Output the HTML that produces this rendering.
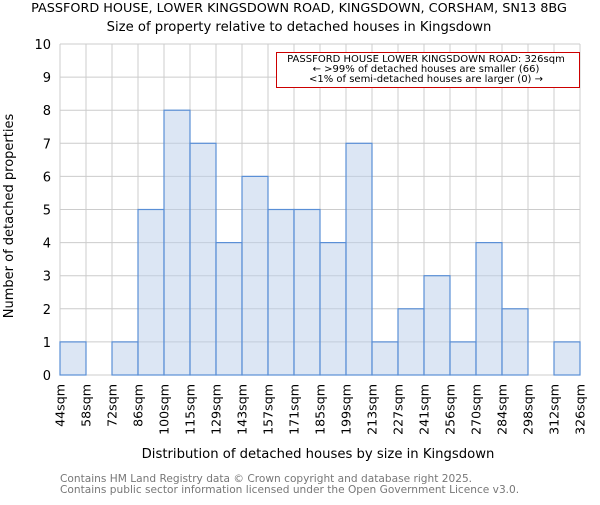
<!DOCTYPE html>
<html><head><meta charset="utf-8"><style>body{margin:0;background:#fff}svg{font-family:"DejaVu Sans","Liberation Sans",sans-serif}</style></head>
<body>
<svg width="600" height="500" xmlns="http://www.w3.org/2000/svg">
<text x="299" y="12" font-size="12.8" text-anchor="middle">PASSFORD HOUSE, LOWER KINGSDOWN ROAD, KINGSDOWN, CORSHAM, SN13 8BG</text>
<text x="299" y="31" font-size="13.2" text-anchor="middle">Size of property relative to detached houses in Kingsdown</text>
<g id="grid"></g><g id="bars"></g><g id="yticks"></g><g id="xticks"></g>
<rect x="276.5" y="52.5" width="303" height="35" fill="#fff" stroke="#cc0000"/>
<text font-size="10" text-anchor="middle"><tspan x="426" y="62">PASSFORD HOUSE LOWER KINGSDOWN ROAD: 326sqm</tspan><tspan x="426" y="72">← &gt;99% of detached houses are smaller (66)</tspan><tspan x="426" y="82">&lt;1% of semi-detached houses are larger (0) →</tspan></text>
<text x="318" y="458" font-size="13.2" text-anchor="middle">Distribution of detached houses by size in Kingsdown</text>
<text transform="translate(13,216) rotate(-90)" font-size="13" text-anchor="middle">Number of detached properties</text>
<text x="60" y="482" font-size="10.6" fill="#777">Contains HM Land Registry data © Crown copyright and database right 2025.</text>
<text x="60" y="493" font-size="10.6" fill="#777">Contains public sector information licensed under the Open Government Licence v3.0.</text>
</svg>
<script>
const categories=["44sqm","58sqm","72sqm","86sqm","100sqm","115sqm","129sqm","143sqm","157sqm","171sqm","185sqm","199sqm","213sqm","227sqm","241sqm","256sqm","270sqm","284sqm","298sqm","312sqm","326sqm"];
const counts=[1,0,1,5,8,7,4,6,5,5,4,7,1,2,3,1,4,2,0,1];
const yTicks=[0,1,2,3,4,5,6,7,8,9,10];
const NS="http://www.w3.org/2000/svg";
const x0=60,x1=580,y0=375,y1=44,yMax=10;
const bw=(x1-x0)/counts.length;
const xs=i=>x0+i*bw;
const ys=v=>y0-(v/yMax)*(y0-y1);
function mk(t,a,p){const e=document.createElementNS(NS,t);for(const k in a)e.setAttribute(k,a[k]);p.appendChild(e);return e;}
const bars=document.getElementById('bars'),grid=document.getElementById('grid'),yt=document.getElementById('yticks'),xt=document.getElementById('xticks');
yTicks.forEach(t=>{const l=mk('line',{x1:x0,x2:x1,y1:ys(t),y2:ys(t),stroke:'#cccccc','stroke-width':1},grid);
 
 
 const tx=mk('text',{x:51,y:ys(t)+5,'font-size':13,'text-anchor':'end'},yt);tx.textContent=t;
 
 });
categories.forEach((c,i)=>{const x=xs(i);
 const l=mk('line',{x1:x,x2:x,y1:y1,y2:y0,stroke:'#cccccc','stroke-width':1},grid);
 
 
 const tx=mk('text',{transform:`translate(${x+4.5},384) rotate(-90)`,'font-size':12.6,'text-anchor':'end'},xt);tx.textContent=c;
 
 });
counts.forEach((v,i)=>{if(v<=0)return;
 const r=mk('rect',{x:xs(i),y:ys(v),width:bw,height:y0-ys(v),fill:'rgba(185,205,234,0.5)',stroke:'#5a8fd6','stroke-width':1.2},bars);
 
 });
</script>
</body></html>
